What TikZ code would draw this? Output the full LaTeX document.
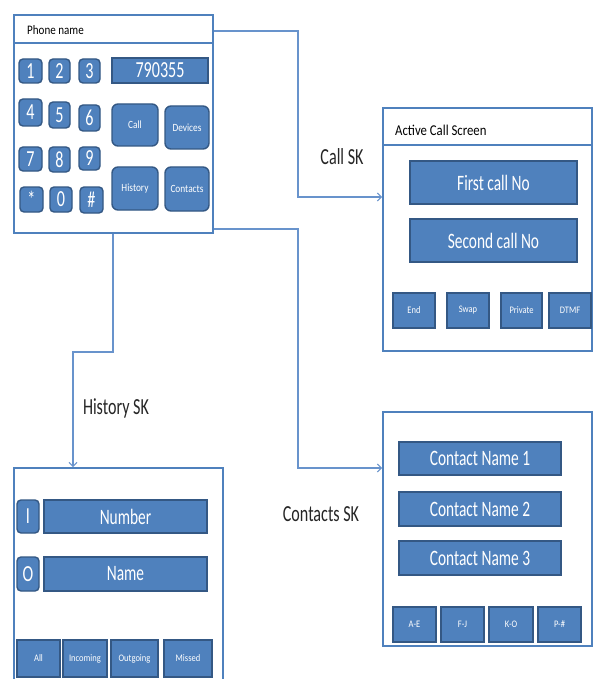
\documentclass[tikz,border=0pt]{standalone}
\usepackage{fontspec}
\setmainfont{Carlito}
\newfontfamily\cndA[FakeStretch=0.7]{Carlito}
\newfontfamily\cndB[FakeStretch=0.85]{Carlito}
\usetikzlibrary{arrows.meta}

\definecolor{btnfill}{RGB}{79,129,189}
\definecolor{btnedge}{RGB}{52,88,132}
\definecolor{framecol}{RGB}{79,129,189}
\definecolor{linkcol}{RGB}{104,147,204}
\definecolor{labelcol}{RGB}{38,38,38}

\tikzset{
  frame/.style={draw=framecol, line width=2pt, fill=white, inner sep=0pt},
  btn/.style={draw=btnedge, fill=btnfill, line width=1.4pt, inner sep=0pt, text=white},
  keybtn/.style={btn, rounded corners=4pt, font=\cndA\fontsize{23}{23}\selectfont},
  softbtn/.style={btn, rounded corners=6pt, font=\cndB\fontsize{11}{11}\selectfont},
  bigbar/.style={btn, font=\cndA\fontsize{22}{22}\selectfont},
  smallbtn/.style={btn, font=\cndB\fontsize{10}{10}\selectfont},
  title/.style={anchor=west, inner sep=0pt, text=black},
  link/.style={draw=linkcol, line width=1.2pt, -{Straight Barb[length=4pt,width=8pt,line width=1pt]}},
  linklabel/.style={inner sep=0pt, text=labelcol, font=\cndA\fontsize{23}{23}\selectfont},
}

% box from its corners (x1,y1)-(x2,y2), y counted downwards
\newcommand\uibox[7]{%
  \node[#2, minimum width={(#5-#3)*1pt}, minimum height={(#6-#4)*1pt}]
    (#1) at ({(#3+#5)/2},{(#4+#6)/2}) {#7};}

\begin{document}
\begin{tikzpicture}[x=1pt, y=-1pt]
\clip (0,0) rectangle (593,679);
\fill[white] (0,0) rectangle (593,679);

% ---------- phone keypad screen ----------
\uibox{phone}{frame}{14}{15}{213}{233}{}
\draw[draw=framecol, line width=2pt] (phone.west |- 0,43) -- (phone.east |- 0,43);
\node[title, font=\cndB\fontsize{13}{13}\selectfont] (ptitle) at (27,30) {Phone name};

\uibox{k1}{keybtn}{19}{59}{42}{83}{1}
\uibox{k2}{keybtn}{49}{59}{70}{83}{2}
\uibox{k3}{keybtn}{79}{59}{100}{83}{3}
\uibox{k4}{keybtn}{19}{99}{42}{126}{4}
\uibox{k5}{keybtn}{49}{102}{70}{128}{5}
\uibox{k6}{keybtn}{79}{105}{100}{131}{6}
\uibox{k7}{keybtn}{19}{147}{42}{171}{7}
\uibox{k8}{keybtn}{49}{147}{70}{172}{8}
\uibox{k9}{keybtn}{79}{147}{100}{170}{9}
\uibox{kstar}{keybtn}{20}{187}{43}{212}{*}
\uibox{k0}{keybtn}{50}{187}{72}{212}{0}
\uibox{khash}{keybtn}{80}{187}{103}{213}{\#}

\uibox{display}{bigbar, font=\cndA\fontsize{23}{23}\selectfont}{112}{58}{208}{83}{790355}
\uibox{callbtn}{softbtn}{112}{104}{158}{146}{Call}
\uibox{devbtn}{softbtn}{165}{106}{209}{149}{Devices}
\uibox{histbtn}{softbtn}{112}{167}{158}{210}{History}
\uibox{contbtn}{softbtn}{165}{167}{209}{211}{Contacts}

% ---------- active call screen ----------
\uibox{callscr}{frame}{383}{108}{592}{351}{}
\draw[draw=framecol, line width=2pt] (callscr.west |- 0,145) -- (callscr.east |- 0,145);
\node[title, font=\cndB\fontsize{15}{15}\selectfont] (ctitle) at (395,130) {Active Call Screen};
\uibox{first}{bigbar}{410}{161}{577}{204}{First call No}
\uibox{second}{bigbar}{410}{219}{577}{262}{Second call No}
\uibox{endb}{smallbtn}{393}{293}{435}{328}{End}
\uibox{swapb}{smallbtn}{447}{293}{489}{328}{Swap}
\uibox{privb}{smallbtn}{501}{293}{542}{328}{Private}
\uibox{dtmfb}{smallbtn}{549}{293}{591}{328}{DTMF}

% ---------- call history screen ----------
\uibox{histscr}{frame}{14}{468}{223}{692}{}
\uibox{inb}{keybtn}{17}{500}{39}{533}{I}
\uibox{numbar}{bigbar}{44}{500}{207}{533}{Number}
\uibox{outb}{keybtn}{17}{557}{39}{591}{O}
\uibox{namebar}{bigbar}{44}{557}{207}{591}{Name}
\uibox{allb}{smallbtn}{17}{640}{60}{677}{All}
\uibox{incb}{smallbtn}{63}{640}{107}{677}{Incoming}
\uibox{outgb}{smallbtn}{111}{640}{158}{677}{Outgoing}
\uibox{missb}{smallbtn}{164}{640}{212}{677}{Missed}

% ---------- contacts screen ----------
\uibox{contscr}{frame}{383}{412}{592}{646}{}
\uibox{cn1}{bigbar}{399}{442}{561}{475}{Contact Name 1}
\uibox{cn2}{bigbar}{399}{492}{561}{526}{Contact Name 2}
\uibox{cn3}{bigbar}{399}{541}{561}{575}{Contact Name 3}
\uibox{ae}{smallbtn}{393}{607}{436}{642}{A-E}
\uibox{fj}{smallbtn}{441}{607}{484}{642}{F-J}
\uibox{ko}{smallbtn}{489}{607}{533}{642}{K-O}
\uibox{pz}{smallbtn}{538}{607}{581}{642}{P-\#}

% ---------- soft-key transitions ----------
\draw[link] (phone.east |- 0,31) -- (298,31) -- (298,197) -- (callscr.west |- 0,197);
\draw[link] (phone.east |- 0,229) -- (298,229) -- (298,468) -- (contscr.west |- 0,468);
\draw[link] (phone.south -| 113,0) -- (113,352) -- (73,352) -- (histscr.north -| 73,0);

\node[linklabel] (callsk) at (342,157) {Call SK};
\node[linklabel] (contsk) at (321,514) {Contacts SK};
\node[linklabel] (histsk) at (116,408) {History SK};
\end{tikzpicture}
\end{document}
